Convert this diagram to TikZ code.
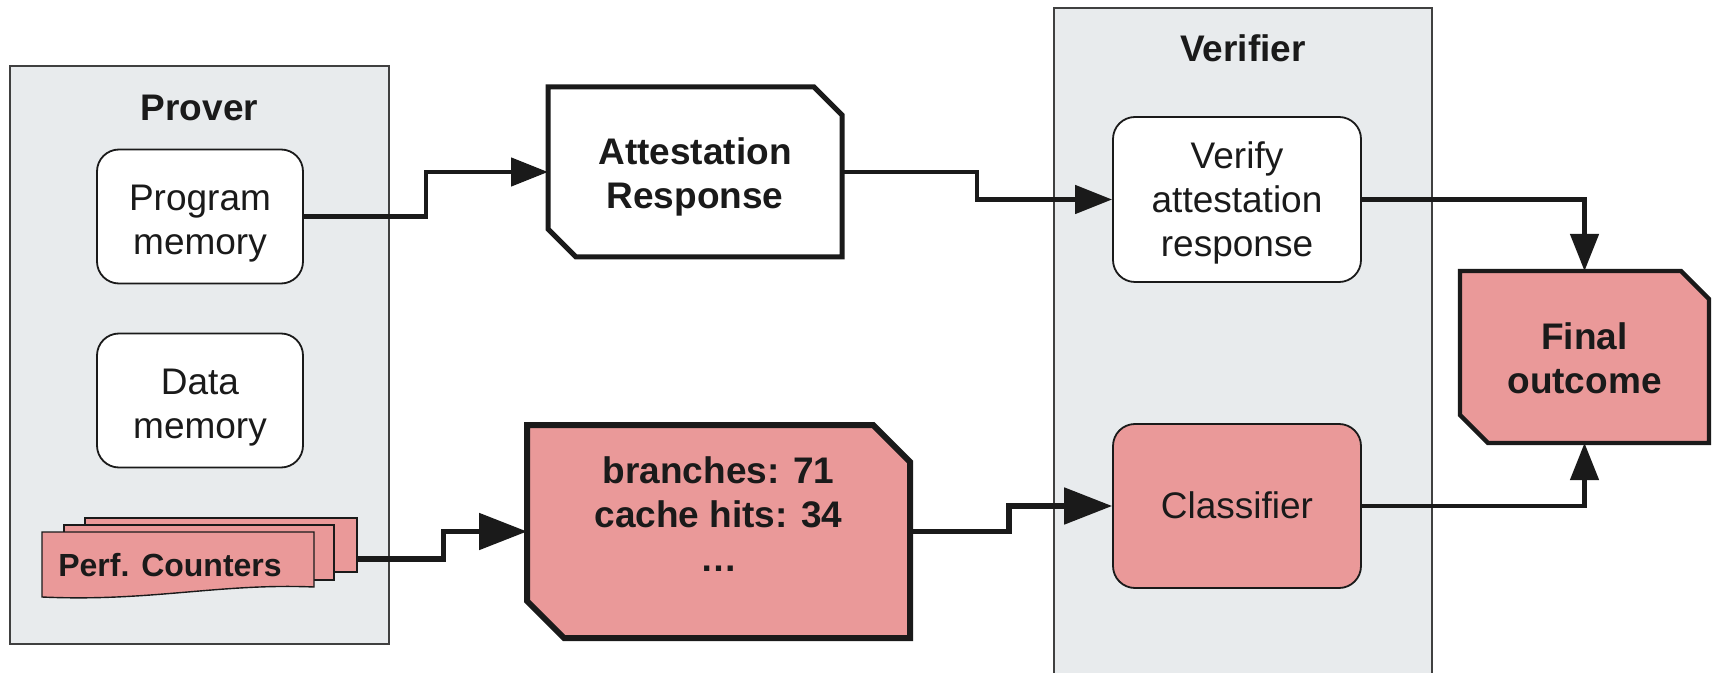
\documentclass[tikz,border=0pt]{standalone}
\usepackage{fontspec}
\setmainfont{Liberation Sans}
\usetikzlibrary{arrows.meta,backgrounds}

\definecolor{panelgray}{HTML}{E8EBED}
\definecolor{rose}{HTML}{EA9999}
\definecolor{ink}{HTML}{1A1A1A}
\definecolor{framegray}{HTML}{404040}

\newcommand\diagfont{\fontsize{18.5}{22}\selectfont}
\newcommand\sheetfont{\fontsize{16}{19}\selectfont\bfseries}
% full-height line strut so that a block of lines is centred by its line boxes
\newcommand\ls{\rule[-4.6pt]{0pt}{22pt}}
% taller strut for a first line that sits a little lower
\newcommand\lsdown[1]{\rule[-4.6pt]{0pt}{#1}}

% outline of a named node with its north-east and south-west corners cut off
\newcommand\cutbox[2]{(#1.north west) -- ([xshift=-#2]#1.north east)
  -- ([yshift=-#2]#1.north east) -- (#1.south east)
  -- ([xshift=#2]#1.south west) -- ([yshift=#2]#1.south west) -- cycle}

\begin{document}
\begin{tikzpicture}[x=0.5pt,y=-0.5pt,
  panel/.style={draw=framegray,line width=0.75pt,fill=panelgray,inner sep=0},
  paneltitle/.style={font={\diagfont\bfseries},text=ink,anchor=base},
  softbox/.style={draw=ink,line width=0.9pt,rounded corners=11pt,align=center,
    font=\diagfont,text=ink,inner sep=0},
  cutnode/.style={align=center,text=ink,inner sep=0,outer sep=0,font={\diagfont\bfseries}},
  sheet/.style={draw=ink,line width=0.7pt,fill=rose},
  conn/.style={draw=ink,line width=2.3pt,-{Triangle[length=18.5pt,width=14pt]}},
  bigconn/.style={draw=ink,line width=2.6pt,-{Triangle[length=24pt,width=18pt]}},
]
\useasboundingbox (0,0) rectangle (1712,673);

% the two parties
\node[panel,minimum width=189.5pt,minimum height=289pt] (prover) at (199.5,355) {};
\node[paneltitle] (provertitle) at (199.5,121) {Prover};
\node[panel,minimum width=189pt,minimum height=341pt] (verifier) at (1243,349) {};
\node[paneltitle] (verifiertitle) at (1243,62) {Verifier};

% prover memories
\node[softbox,fill=white,minimum width=103pt,minimum height=67pt] (pm) at (200,216.5)
  {\lsdown{25pt}Program\\\ls memory};
\node[softbox,fill=white,minimum width=103pt,minimum height=67pt] (dm) at (200,400.5)
  {\lsdown{25pt}Data\\\ls memory};

% stack of counter sheets
\node[sheet,minimum width=136pt,minimum height=27pt,inner sep=0] (pc3) at (221,545) {};
\node[sheet,minimum width=135pt,minimum height=27.5pt,inner sep=0] (pc2) at (199,552.5) {};
\draw[sheet] (42,532) -- (314,532) -- (314,587)
  .. controls (220,583) and (150,602) .. (42,597) -- cycle;
\node[font=\sheetfont,text=ink,anchor=base] (perf) at (170,576) {Perf. Counters};

% messages
\node[cutnode,minimum width=147pt,minimum height=85pt] (att) at (695,172)
  {\lsdown{24pt}Attestation\\\ls Response};
\node[cutnode,minimum width=191.5pt,minimum height=106.5pt] (ctr) at (718.5,531.5)
  {branches: 71\\cache hits: 34\\…\rule[-17pt]{0pt}{17pt}};

% verifier steps
\node[softbox,fill=white,minimum width=124pt,minimum height=82.5pt] (ver) at (1237,199.5)
  {\ls Verify\\\ls attestation\\\ls response};
\node[softbox,fill=rose,minimum width=124pt,minimum height=82pt] (cls) at (1237,506) {\ls Classifier};

% result
\node[cutnode,minimum width=124.5pt,minimum height=86pt] (fin) at (1584.5,357)
  {\lsdown{24pt}Final\\\ls outcome};

\begin{scope}[on background layer]
  \draw[draw=ink,line width=2.5pt,fill=white] \cutbox{att}{14pt};
  \draw[draw=ink,line width=3pt,fill=rose] \cutbox{ctr}{18.5pt};
  \draw[draw=ink,line width=2.2pt,fill=rose] \cutbox{fin}{14pt};
\end{scope}

% flows
\draw[conn] (pm.east) -- ++(122,0) |- (att.west);
\draw[conn] (att.east) -- ++(135,0) |- (ver.west);
\draw[conn] (ver.east) -| (fin.north);
\draw[conn] (cls.east) -| (fin.south);
\draw[bigconn] ([yshift=-7pt]pc3.east) -- ++(86,0) |- (ctr.west);
\draw[bigconn] (ctr.east) -- ++(99,0) |- (cls.west);
\end{tikzpicture}
\end{document}
